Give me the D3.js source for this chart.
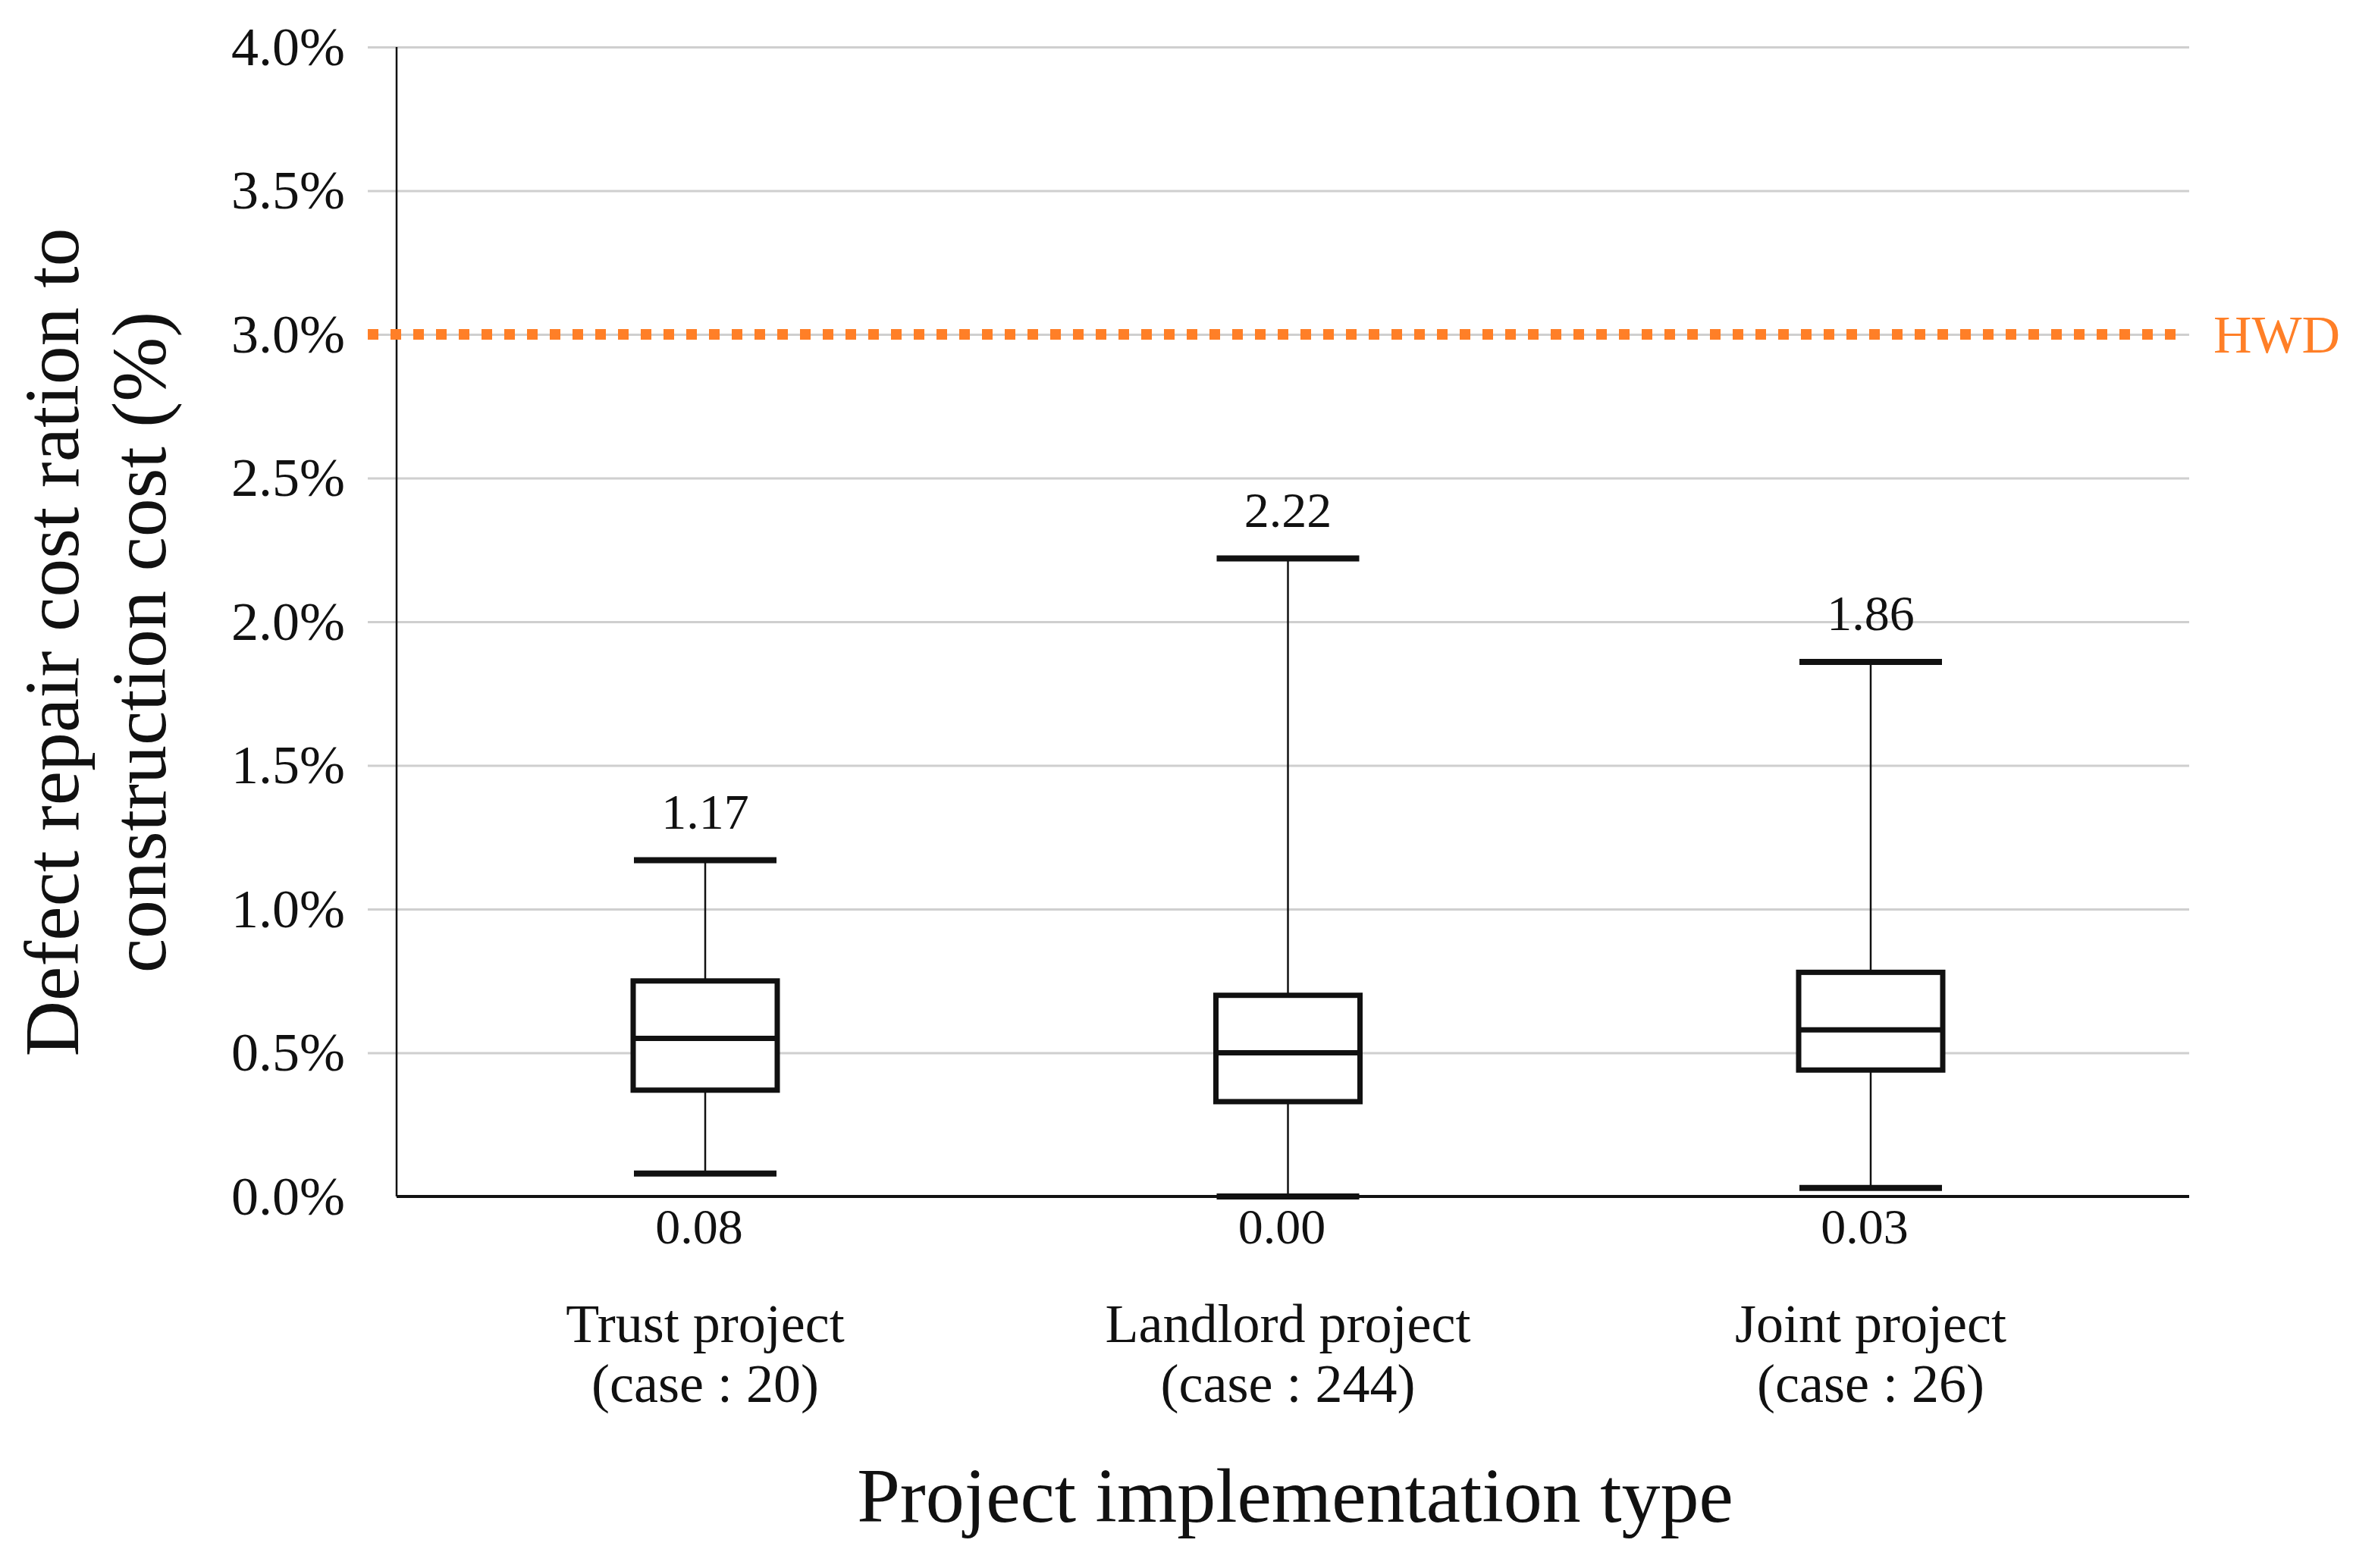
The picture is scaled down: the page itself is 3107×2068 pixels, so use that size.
<!doctype html>
<html lang="en">
<head>
<meta charset="utf-8">
<title>Defect repair cost ratio by project type</title>
<script src="https://d3js.org/d3.v7.min.js"></script>
<style>
    html, body { margin: 0; padding: 0; background: #fff; }
    svg text { font-family: "Palatino Linotype", "Book Antiqua", Palatino, "Liberation Serif", serif; fill: #111; }
</style>
</head>
<body>
<svg id="chart"></svg>
<script>

    // data (values in %)
    const categories = ["Trust project", "Landlord project", "Joint project"];
    const caseCounts = [20, 244, 26];
    const whiskerMax = [1.17, 2.22, 1.86];
    const q3 = [0.75, 0.70, 0.78];
    const median = [0.55, 0.50, 0.58];
    const q1 = [0.37, 0.33, 0.44];
    const whiskerMin = [0.08, 0.00, 0.03];
    const yTicks = [0, 0.5, 1.0, 1.5, 2.0, 2.5, 3.0, 3.5, 4.0];
    const hwdValue = 3.0;

    const W = 3107, H = 2068;
    const axisX = 523, gridLeft = 485, plotRight = 2887;

    const svg = d3.select("#chart").attr("width", W).attr("height", H);

    const y = d3.scaleLinear().domain([0, 4]).range([1578, 62]);
    const x = d3.scalePoint().domain(categories).range([930, 2467]);

    const boxes = categories.map((c, i) => ({
        cat: c, n: caseCounts[i], hi: whiskerMax[i], q3: q3[i], med: median[i], q1: q1[i], lo: whiskerMin[i]
    }));

    // gridlines + tick labels
    const yAxis = svg.append("g")
        .attr("transform", `translate(${gridLeft},0)`)
        .call(d3.axisLeft(y)
            .tickValues(yTicks)
            .tickSize(-(plotRight - gridLeft))
            .tickPadding(30)
            .tickFormat(d => d.toFixed(1) + "%"));
    yAxis.select(".domain").remove();
    yAxis.selectAll(".tick line").attr("stroke", "#cfcfcf").attr("stroke-width", 3);
    yAxis.selectAll(".tick text").style("font-size", "72px").attr("fill", "#111");
    yAxis.selectAll(".tick").filter(d => d === 0).select("line").remove();

    // axis lines
    svg.append("line")
        .attr("x1", axisX).attr("x2", axisX)
        .attr("y1", y(4)).attr("y2", y(0))
        .attr("stroke", "#111").attr("stroke-width", 2.5);
    svg.append("line")
        .attr("x1", axisX).attr("x2", plotRight)
        .attr("y1", y(0)).attr("y2", y(0))
        .attr("stroke", "#111").attr("stroke-width", 4);

    // HWD reference line
    svg.append("line")
        .attr("x1", gridLeft).attr("x2", plotRight - 8)
        .attr("y1", y(hwdValue)).attr("y2", y(hwdValue))
        .attr("stroke", "#ff7f27").attr("stroke-width", 14)
        .attr("stroke-dasharray", "14,16");
    svg.append("text")
        .attr("x", 2919).attr("y", y(hwdValue) + 24)
        .style("font-size", "70px")
        .style("fill", "#ff7f27")
        .text("HWD");

    // box plots
    const boxW = 190, capW = 188;
    const g = svg.selectAll("g.box")
        .data(boxes)
        .join("g")
        .attr("class", "box")
        .attr("transform", d => `translate(${x(d.cat)},0)`);

    g.append("line")
        .attr("y1", d => y(d.hi)).attr("y2", d => y(d.lo))
        .attr("stroke", "#111").attr("stroke-width", 2.5);

    g.append("rect")
        .attr("x", -boxW / 2).attr("width", boxW)
        .attr("y", d => y(d.q3)).attr("height", d => y(d.q1) - y(d.q3))
        .attr("fill", "#fff").attr("stroke", "#111").attr("stroke-width", 7);

    g.append("line")
        .attr("x1", -boxW / 2).attr("x2", boxW / 2)
        .attr("y1", d => y(d.med)).attr("y2", d => y(d.med))
        .attr("stroke", "#111").attr("stroke-width", 7);

    g.selectAll("line.cap")
        .data(d => [d.hi, d.lo])
        .join("line")
        .attr("class", "cap")
        .attr("x1", -capW / 2).attr("x2", capW / 2)
        .attr("y1", v => y(v)).attr("y2", v => y(v))
        .attr("stroke", "#111").attr("stroke-width", 8);

    g.append("text")
        .attr("text-anchor", "middle")
        .attr("y", d => y(d.hi) - 42)
        .style("font-size", "66px")
        .text(d => d.hi.toFixed(2));

    g.append("text")
        .attr("text-anchor", "middle")
        .attr("x", -8)
        .attr("y", d => y(0) + 62)
        .style("font-size", "66px")
        .text(d => d.lo.toFixed(2));

    // category labels
    const cl = g.append("text")
        .attr("text-anchor", "middle")
        .style("font-size", "72px");
    cl.append("tspan").attr("x", 0).attr("y", 1770).text(d => d.cat);
    cl.append("tspan").attr("x", 0).attr("y", 1849).text(d => `(case : ${d.n})`);

    // axis titles
    svg.append("text")
        .attr("x", 1708).attr("y", 2007)
        .attr("text-anchor", "middle")
        .style("font-size", "102px")
        .text("Project implementation type");

    const yt = svg.append("text")
        .attr("transform", "translate(0,847) rotate(-90)")
        .attr("text-anchor", "middle")
        .style("font-size", "102px");
    yt.append("tspan").attr("x", 0).attr("y", 103).text("Defect repair cost ration to");
    yt.append("tspan").attr("x", 0).attr("y", 218).text("construction cost (%)");

</script>
</body>
</html>
